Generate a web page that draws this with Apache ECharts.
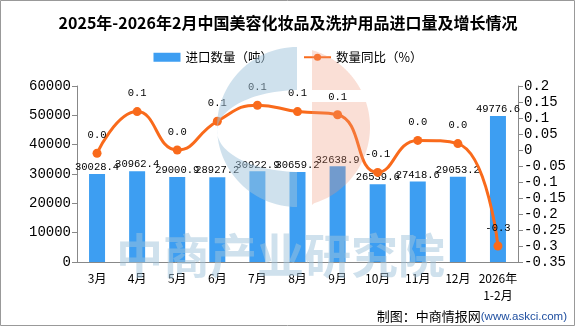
<!DOCTYPE html>
<html>
<head>
<meta charset="utf-8">
<script src="https://cdn.jsdelivr.net/npm/echarts@6/dist/echarts.min.js"></script>
<style>
html,body{margin:0;padding:0;background:#fff;}
#main{width:576px;height:327px;}
</style>
</head>
<body>
<div id="main"></div>
<script>
var categories = ['3月','4月','5月','6月','7月','8月','9月','10月','11月','12月','2026年\n1-2月'];
var importVolume = [30028.4, 30962.4, 29000.9, 28927.2, 30922.9, 30659.2, 32638.9, 26539.6, 27418.6, 29053.2, 49776.6];
var yoyGrowth = [-0.01, 0.12, 0.00, 0.09, 0.14, 0.12, 0.11, -0.07, 0.03, 0.02, -0.30];
var titleText = '2025年-2026年2月中国美容化妆品及洗护用品进口量及增长情况';
var seriesNames = ['进口数量（吨）', '数量同比（%）'];

function pinkPart(cx, cy, r, x0, y0, y1){
  var pts = [], n = 60, i, y, x;
  for(i=0;i<=n;i++){ y = y0 + (y1-y0)*i/n; var dy = y-cy; var w = Math.sqrt(Math.max(0, r*r-dy*dy)); x = cx + w; if (x < x0) x = x0; pts.push([x, y]); }
  pts.push([x0, y1]); pts.push([x0, y0]);
  return pts;
}
var cx = 297, cy = 127, R = 80;
var cPts = (function(){
  var pts=[], n=60, i, a;
  for(i=0;i<=n;i++){ a = -Math.PI/2 - Math.PI*i/n; pts.push([cx + R*Math.cos(a), cy + R*Math.sin(a)]); }
  var ex=300, ey=131, erx=83, ery=41;
  pts.push([cx, ey+ery]);
  for(i=0;i<=n;i++){ a = Math.PI/2 + Math.PI*i/n; var x = ex + erx*Math.cos(a); pts.push([Math.min(x,cx), ey + ery*Math.sin(a)]); }
  return pts;
})();
var pinkTop = pinkPart(cx-7, cy, R, 312, cy-R+3, 90);
var pinkBot = pinkPart(cx-7, cy, R, 312, 102, cy+R-2);

var chart = echarts.init(document.getElementById('main'));
chart.setOption({
  backgroundColor: '#fff',
  animation: false,
  title: {
    text: titleText,
    left: 'center',
    top: 10,
    textStyle: { fontFamily: 'Noto Sans CJK SC', fontWeight: 'bold', fontSize: 16, color: '#000' }
  },
  legend: {
    top: 46,
    left: 'center',
    itemWidth: 27,
    itemHeight: 9,
    itemGap: 30,
    textStyle: { fontFamily: 'Noto Sans CJK SC', fontSize: 12.5, color: '#000' },
    data: [
      { name: seriesNames[0], icon: 'rect' },
      { name: seriesNames[1] }
    ]
  },
  grid: { left: 77, right: 58, top: 86, bottom: 65 },
  xAxis: {
    type: 'category',
    data: categories,
    axisLine: { lineStyle: { color: '#888' } },
    axisTick: { lineStyle: { color: '#888' } },
    axisLabel: { color: '#000', fontFamily: 'Noto Sans CJK SC', fontSize: 12, margin: 8, interval: 0, lineHeight: 17 }
  },
  yAxis: [
    {
      type: 'value', min: 0, max: 60000, interval: 10000,
      axisLine: { show: true, lineStyle: { color: '#888' } },
      axisTick: { show: true, lineStyle: { color: '#888' } },
      splitLine: { show: false },
      axisLabel: { color: '#000', fontFamily: 'Liberation Mono', fontSize: 14, margin: 6,
        formatter: function(v){ return String(v); } }
    },
    {
      type: 'value', min: -0.35, max: 0.2, interval: 0.05,
      axisLine: { show: true, lineStyle: { color: '#888' } },
      axisTick: { show: true, lineStyle: { color: '#888' } },
      splitLine: { show: false },
      axisLabel: {
        color: '#000', fontFamily: 'Liberation Mono', fontSize: 14, margin: 6,
        formatter: function(v){ return String(Math.round(v*100)/100); }
      }
    }
  ],
  series: [
    {
      name: seriesNames[0],
      type: 'bar',
      data: importVolume,
      barWidth: 16,
      itemStyle: { color: '#3d9ef2' },
      label: {
        show: true, position: 'top', distance: 1,
        color: '#000', fontFamily: 'Liberation Mono', fontSize: 10.5,
        formatter: function(p){ return p.value.toFixed(1); }
      },
      z: 2
    },
    {
      name: seriesNames[1],
      type: 'line',
      yAxisIndex: 1,
      data: yoyGrowth,
      smooth: true,
      symbol: 'circle',
      symbolSize: 9,
      lineStyle: { color: '#f96a1b', width: 3 },
      itemStyle: { color: '#f96a1b' },
      label: {
        show: true, position: 'top', distance: 8,
        color: '#000', fontFamily: 'Liberation Mono', fontSize: 10.5,
        formatter: function(p){ var s = p.value.toFixed(1); if (s === '-0.0') s = '0.0'; return s; }
      },
      z: 3
    }
  ],
  graphic: [
    { type: 'polygon', shape: { points: cPts }, style: { fill: 'rgba(160,195,220,0.5)' }, z: 100, silent: true },
    { type: 'polygon', shape: { points: pinkTop }, style: { fill: 'rgba(240,150,120,0.3)' }, z: 100, silent: true },
    { type: 'polygon', shape: { points: pinkBot }, style: { fill: 'rgba(240,150,120,0.3)' }, z: 100, silent: true },
    { type: 'text', left: 116, top: 232, z: 100, silent: true,
      style: { text: '中商产业研究院', fontFamily: 'Noto Sans CJK SC', fontWeight: 'bold', fontSize: 47, fill: 'rgba(160,195,220,0.5)' } },
    { type: 'text', right: 9, top: 310, z: 101, silent: true,
      style: { rich: { a: { fontFamily: 'Noto Sans CJK SC', fontSize: 13, fill: '#000' }, b: { fontFamily: 'Liberation Sans', fontSize: 11.5, fill: '#1f4fa0' } },
               text: '{a|制图：中商情报网}{b|(www.askci.com)}' } },
    { type: 'rect', shape: { x: 0.5, y: 0.5, width: 574, height: 325 }, style: { fill: 'none', stroke: '#999', lineWidth: 1 }, z: 101, silent: true }
  ]
});
</script>
</body>
</html>
